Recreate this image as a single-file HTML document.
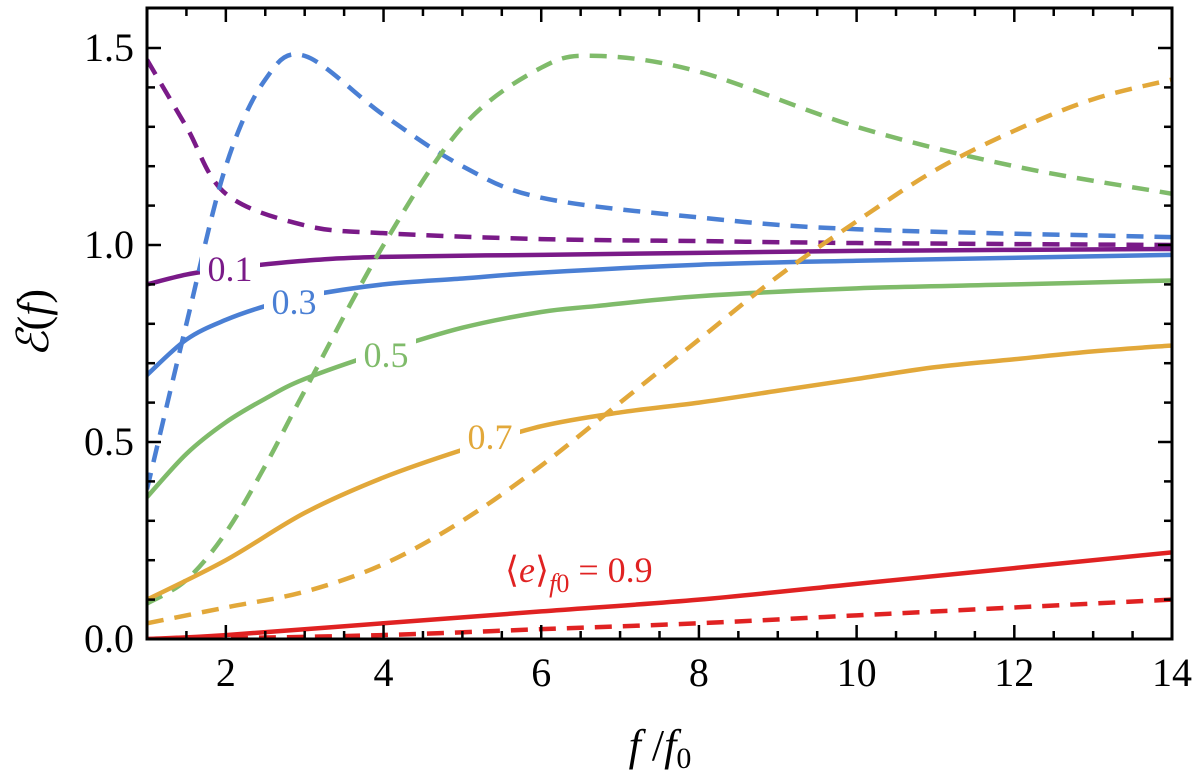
<!DOCTYPE html>
<html><head><meta charset="utf-8"><style>
body{margin:0;background:#fff}
svg, svg text{font-family:"Liberation Serif","Times New Roman",serif}
</style></head><body>
<svg id="chart" width="1200" height="772" viewBox="0 0 1200 772" xmlns="http://www.w3.org/2000/svg" font-family="Liberation Serif, serif">
<g id="series"></g>
<g id="labels"></g>
<g id="axes"></g>
</svg>
<script>
const fPurple=[1,1.5,2,3,4,6,8,10,14];
const purpleSolid=[0.9,0.925,0.94,0.96,0.97,0.975,0.98,0.985,0.99];
const purpleDashed=[1.47,1.3,1.13,1.05,1.03,1.015,1.01,1.005,1.0];
const fBlue=[1,1.5,2,2.5,3,4,5,6,8,10,14];
const blueSolid=[0.67,0.76,0.81,0.845,0.87,0.9,0.915,0.93,0.95,0.96,0.975];
const blueDashed=[0.38,0.8,1.2,1.42,1.48,1.33,1.2,1.12,1.07,1.04,1.02];
const fGreen=[1,1.5,2,2.5,3,4,5,6,6.7,8,10,12,14];
const greenSolid=[0.36,0.47,0.55,0.61,0.66,0.73,0.79,0.83,0.845,0.87,0.89,0.9,0.91];
const greenDashed=[0.09,0.15,0.27,0.44,0.63,1.0,1.3,1.45,1.48,1.44,1.3,1.2,1.13];
const fOrange=[1,2,3,4,5,6,7,8,9,10,11,12,13,14];
const orangeSolid=[0.1,0.2,0.32,0.41,0.48,0.54,0.575,0.6,0.63,0.66,0.69,0.71,0.73,0.745];
const orangeDashed=[0.04,0.08,0.12,0.19,0.3,0.44,0.6,0.76,0.92,1.06,1.19,1.29,1.37,1.42];
const fRed=[1,2,4,6,8,10,12,14];
const redSolid=[0,0.01,0.04,0.07,0.1,0.14,0.18,0.22];
const redDashed=[0,0.002,0.01,0.025,0.04,0.06,0.08,0.1];
const xTicks=[2,4,6,8,10,12,14];
const yTicks=[0,0.5,1.0,1.5];

const X0=147,X1=1172,Y0=639,Y1=8;
const xs=f=>X0+(f-1)/13*(X1-X0);
const ys=v=>Y0-v/1.5*(Y0-48);
const NS="http://www.w3.org/2000/svg";
function mk(t,a,p){const e=document.createElementNS(NS,t);for(const k in a)e.setAttribute(k,a[k]);p.appendChild(e);return e;}
function pathD(fx,vals){
  const p=fx.map((f,i)=>[xs(f),ys(vals[i])]);
  let d="M"+p[0][0]+","+p[0][1];
  for(let i=0;i<p.length-1;i++){
    const a=p[Math.max(i-1,0)],b=p[i],c=p[i+1],e=p[Math.min(i+2,p.length-1)];
    const c1=[b[0]+(c[0]-a[0])/6,b[1]+(c[1]-a[1])/6],c2=[c[0]-(e[0]-b[0])/6,c[1]-(e[1]-b[1])/6];
    d+=` C${c1[0]},${c1[1]} ${c2[0]},${c2[1]} ${c[0]},${c[1]}`;
  }
  return d;
}
const sg=document.getElementById('series');
const defs=[
 ['purple-solid',fPurple,purpleSolid,'#7a1a88',false],
 ['purple-dashed',fPurple,purpleDashed,'#7a1a88',true],
 ['blue-solid',fBlue,blueSolid,'#4a7fd4',false],
 ['blue-dashed',fBlue,blueDashed,'#4a7fd4',true],
 ['green-solid',fGreen,greenSolid,'#7fbb6a',false],
 ['green-dashed',fGreen,greenDashed,'#7fbb6a',true],
 ['orange-solid',fOrange,orangeSolid,'#e2a83a',false],
 ['orange-dashed',fOrange,orangeDashed,'#e2a83a',true],
 ['red-solid',fRed,redSolid,'#e02222',false],
 ['red-dashed',fRed,redDashed,'#e02222',true]];
const cp=mk('clipPath',{id:'cp'},sg);mk('rect',{x:X0,y:Y1,width:X1-X0,height:Y0-Y1},cp);
defs.forEach(([n,fx,v,c,d])=>{
  const e=mk('path',{d:pathD(fx,v),fill:'none',stroke:c,'stroke-width':4.5,'clip-path':'url(#cp)'},sg);
  if(d)e.setAttribute('stroke-dasharray','17,11');
  
  
});
const lg=document.getElementById('labels');
[['label-0.1','0.1',230,281,'#7a1a88',60],['label-0.3','0.3',294,314,'#4a7fd4',60],['label-0.5','0.5',386,367,'#7fbb6a',60],['label-0.7','0.7',490,449,'#e2a83a',60]].forEach(([n,t,x,y,c,w])=>{
  mk('rect',{x:x-w/2,y:y-30,width:w,height:36,fill:'#fff'},lg);
  const e=mk('text',{x:x,y:y,fill:c,'font-size':36,'text-anchor':'middle','font-family':'Liberation Serif, serif'},lg);e.textContent=t;
  
  
});
const rl=mk('text',{x:505,y:582,fill:'#e02222','font-size':36,'font-family':'Liberation Serif, serif'},lg);
rl.innerHTML='⟨<tspan font-style="italic">e</tspan>⟩<tspan font-style="italic" font-size="26" dy="10">f</tspan><tspan font-size="26">0</tspan><tspan dy="-10"> = 0.9</tspan>';



const ax=document.getElementById('axes');
const fr=mk('rect',{x:X0,y:Y1,width:X1-X0,height:Y0-Y1,fill:'none',stroke:'#000','stroke-width':3},ax);


for(let f=1.5;f<=14;f+=0.5){const x=xs(f),maj=xTicks.includes(f),L=maj?14:8;
  mk('line',{x1:x,y1:Y0,x2:x,y2:Y0-L,stroke:'#000','stroke-width':2.5},ax);
  mk('line',{x1:x,y1:Y1,x2:x,y2:Y1+L,stroke:'#000','stroke-width':2.5},ax);}
xTicks.forEach(f=>{const t=mk('text',{x:xs(f),y:686,'font-size':40,'text-anchor':'middle','font-family':'Liberation Serif, serif'},ax);t.textContent=f;
  
  });
for(let i=1;i<16;i++){const v=i/10,y=ys(v),maj=i%5==0,L=maj?14:8;
  mk('line',{x1:X0,y1:y,x2:X0+L,y2:y,stroke:'#000','stroke-width':2.5},ax);
  mk('line',{x1:X1,y1:y,x2:X1-L,y2:y,stroke:'#000','stroke-width':2.5},ax);}
yTicks.forEach(v=>{const t=mk('text',{x:134,y:ys(v)+13,'font-size':40,'text-anchor':'end','font-family':'Liberation Serif, serif'},ax);t.textContent=v.toFixed(1);
  
  });
const xt=mk('text',{x:660,y:760,'font-size':44,'text-anchor':'middle','font-family':'Liberation Serif, serif'},ax);
xt.innerHTML='<tspan font-style="italic">f</tspan> /<tspan font-style="italic">f</tspan><tspan font-size="30" dy="8">0</tspan>';


const yt=mk('text',{x:0,y:0,'font-size':44,'text-anchor':'middle','font-family':'Liberation Serif, serif',transform:'translate(48,323) rotate(-90)'},ax);
yt.innerHTML='<tspan font-style="italic">ℰ</tspan>(<tspan font-style="italic">f</tspan>)';


</script>
</body></html>
